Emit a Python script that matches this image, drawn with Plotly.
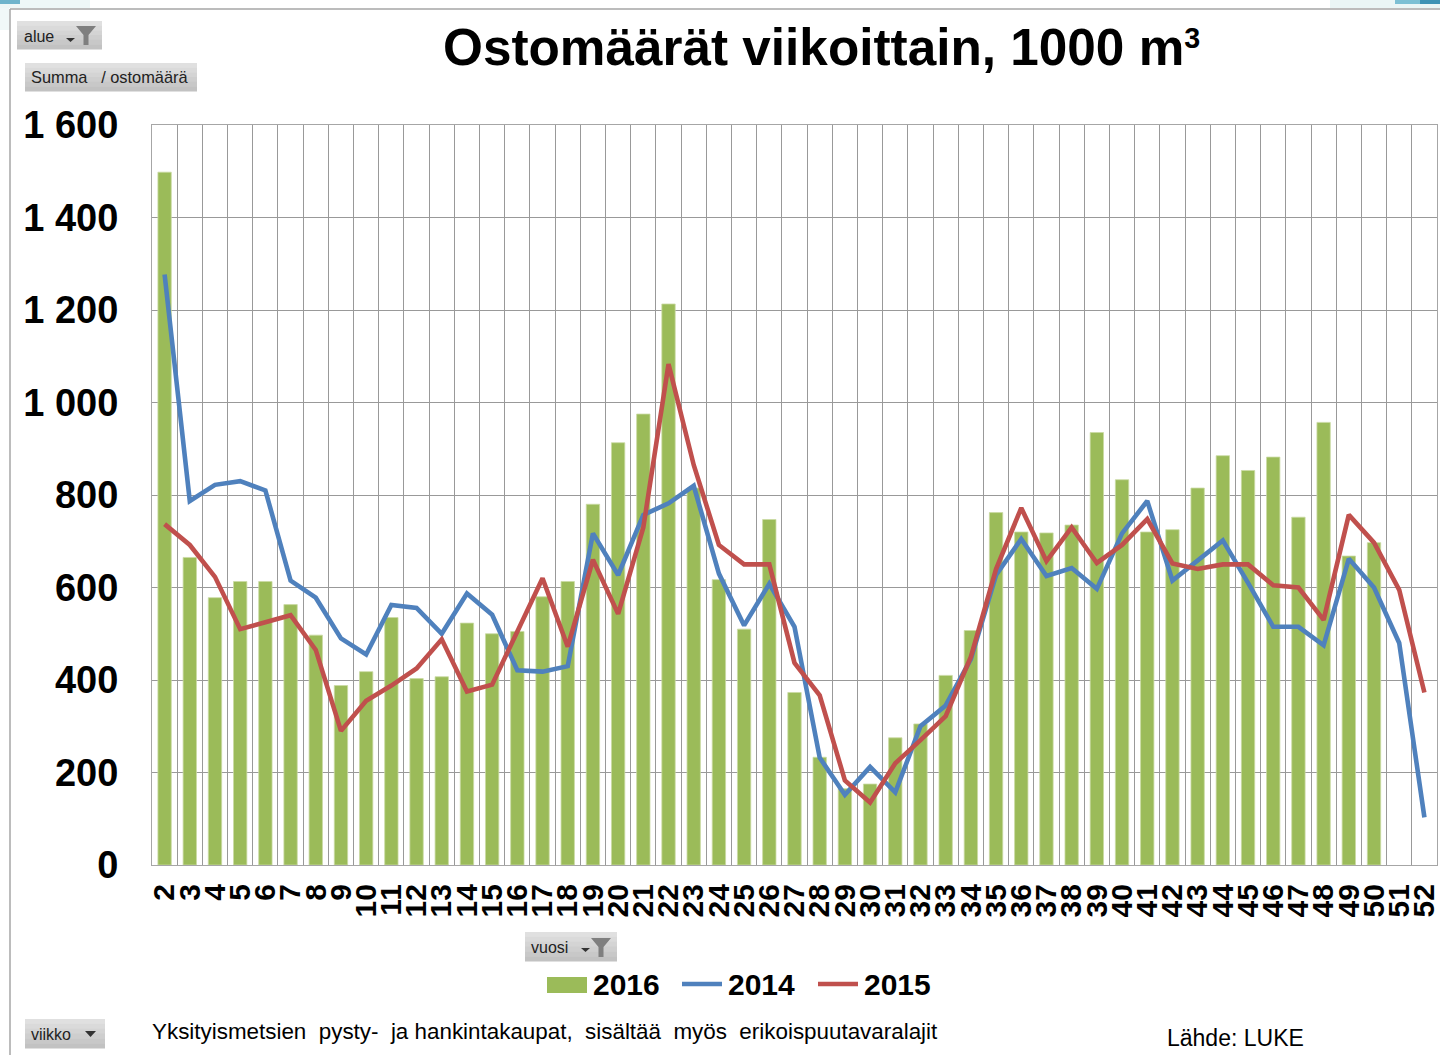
import plotly.graph_objects as go

weeks = [str(w) for w in range(2, 53)]
v2016 = [1498, 665, 578, 613, 613, 563, 497, 388, 418, 535, 403, 407, 523, 500, 505, 580, 613, 780, 913, 975, 1213, 815, 617, 510, 747, 373, 233, 165, 175, 275, 305, 410, 507, 762, 720, 718, 735, 935, 833, 720, 725, 815, 885, 853, 882, 752, 957, 668, 697, None, None]
v2014 = [1277, 787, 822, 830, 810, 615, 578, 490, 455, 562, 556, 500, 587, 541, 421, 418, 430, 717, 627, 757, 782, 820, 630, 518, 608, 515, 232, 152, 212, 157, 300, 345, 445, 627, 705, 625, 642, 597, 717, 787, 615, 660, 702, 610, 515, 515, 475, 662, 600, 480, 103]
v2015 = [737, 692, 623, 510, 525, 540, 465, 290, 355, 388, 425, 488, 375, 390, 505, 620, 472, 660, 543, 730, 1083, 865, 692, 650, 650, 437, 367, 183, 135, 220, 270, 322, 450, 640, 772, 657, 730, 653, 692, 748, 652, 640, 650, 650, 605, 600, 530, 757, 697, 595, 373]
y_ticks = [0, 200, 400, 600, 800, 1000, 1200, 1400, 1600]
y_labels = ["0", "200", "400", "600", "800", "1 000", "1 200", "1 400", "1 600"]

GREEN, BLUE, RED = "#9BBB59", "#4F81BD", "#C0504D"
W, H = 1440, 1055
L, R, T, B = 152, 1437, 125, 865
FONT = "Liberation Sans"

def px(x): return (x - L) / (R - L)
def py(y): return (B - y) / (B - T)

fig = go.Figure()
fig.add_bar(x=weeks, y=v2016, name="2016", marker=dict(color=GREEN, line=dict(color="#CADBA3", width=0.8)),
            width=0.53, showlegend=False)
fig.add_scatter(x=weeks, y=v2014, name="2014", mode="lines", line=dict(color=BLUE, width=4.6), showlegend=False)
fig.add_scatter(x=weeks, y=v2015, name="2015", mode="lines", line=dict(color=RED, width=4.6), showlegend=False)

shapes, annos = [], []

def rect(x0, y0, x1, y1, color):
    shapes.append(dict(type="rect", xref="paper", yref="paper", x0=px(x0), x1=px(x1),
                       y0=py(y0), y1=py(y1), fillcolor=color, line_width=0, layer="below"))

def text(x, y, s, size, color="#000", bold=False, anchor="left"):
    annos.append(dict(xref="paper", yref="paper", x=px(x), y=py(y), text=f"<b>{s}</b>" if bold else s,
                      showarrow=False, xanchor=anchor, yanchor="middle",
                      font=dict(family=FONT, size=size, color=color)))

def tri(x, y, w, h, color):
    shapes.append(dict(type="path", xref="paper", yref="paper",
                      path=f"M {px(x)} {py(y)} L {px(x+w)} {py(y)} L {px(x+w/2)} {py(y+h)} Z",
                      fillcolor=color, line_width=0))

def funnel(x, y):
    shapes.append(dict(type="path", xref="paper", yref="paper",
        path=(f"M {px(x)} {py(y)} L {px(x+20)} {py(y)} L {px(x+12.5)} {py(y+9)} L {px(x+12.5)} {py(y+19)} "
              f"L {px(x+7.5)} {py(y+19)} L {px(x+7.5)} {py(y+9)} Z"),
        fillcolor="#7F7F7F", line_width=0))

def button(x0, y0, x1, y1):
    n = 6
    for i in range(n):
        c = 224 - i * 6
        rect(x0, y0 + (y1 - y0) * i / n, x1, y0 + (y1 - y0) * (i + 1) / n + 0.5, f"rgb({c},{c},{c})")

def line(x0, y0, x1, y1, color, width):
    shapes.append(dict(type="line", xref="paper", yref="paper", x0=px(x0), x1=px(x1), y0=py(y0), y1=py(y1),
                       line=dict(color=color, width=width)))

# desktop-background slivers above the frame
rect(0, 0, 90, 8, "#EEF7F7")
rect(0, 0, 20, 4, "#6FB4CC")
rect(0, 8, 9, 30, "#F1F8F8")
rect(1330, 0, 1440, 8, "#EAF6F6")
rect(1395, 0, 1440, 4, "#7CC0D4")
rect(1420, 0, 1440, 4, "#3E93B5")

button(17, 21, 102, 49)
text(22.3, 36, "alue", 16, "#222")
tri(66, 38, 9, 4, "#333")
funnel(76, 26)

button(25, 63, 197, 91)
text(29.3, 77.5, "Summa&nbsp;&nbsp;&nbsp;/ ostomäärä", 16.4, "#222")

button(525, 932, 617, 961)
text(529, 947, "vuosi", 16, "#222")
tri(581, 948, 9, 4, "#333")
funnel(591, 938)

button(25, 1019, 105, 1048)
text(29.3, 1034, "viikko", 16, "#222")
tri(85, 1031, 11, 6, "#333")

# outer frame
line(10, 9, 1440, 9, "#A6A6A6", 1.5)
line(10, 9, 10, 1055, "#A6A6A6", 1.5)

# legend
rect(547, 977, 587, 993, GREEN)
text(591, 984, "2016", 30, bold=True)
line(682, 984, 722, 984, BLUE, 4.6)
text(725.7, 984, "2014", 30, bold=True)
line(818, 984, 858, 984, RED, 4.6)
text(862.4, 984, "2015", 30, bold=True)

# title and notes
text(821, 47.5, 'Ostomäärät viikoittain, 1000 m<span style="font-size:41px"><sup>3</sup></span>', 51.3, bold=True, anchor="center")
text(150, 1031.5, "Yksityismetsien&nbsp; pysty-&nbsp; ja hankintakaupat,&nbsp; sisältää&nbsp; myös&nbsp; erikoispuutavaralajit", 22.4)
text(1164.7, 1038, "Lähde: LUKE", 23)

fig.update_layout(
    width=W, height=H, autosize=False,
    margin=dict(l=L, r=W - R, t=T, b=H - B, pad=0, autoexpand=False),
    paper_bgcolor="white", plot_bgcolor="white",
    font=dict(family=FONT, color="#000"),
    showlegend=False,
    shapes=shapes, annotations=annos,
    xaxis=dict(type="category", categoryorder="array", categoryarray=weeks, tickmode="array",
               range=[-0.5, 50.5],
               tickvals=weeks, ticktext=weeks, tickangle=-90, tickson="boundaries", ticklen=0,
               ticklabelstandoff=6,
               showgrid=True, gridcolor="#999999", gridwidth=1.2,
               showline=True, linecolor="#A6A6A6", linewidth=1.2, mirror=True,
               tickfont=dict(family=FONT, size=30, color="#000", weight="bold")),
    yaxis=dict(range=[0, 1600], tickmode="array", tickvals=y_ticks, ticktext=y_labels, ticks="",
               ticklabelstandoff=25,
               showgrid=True, gridcolor="#999999", gridwidth=1.2,
               showline=True, linecolor="#A6A6A6", linewidth=1.2, mirror=True, zeroline=False,
               tickfont=dict(family=FONT, size=38, color="#000", weight="bold")),
)

fig.write_html("out.html", config={"displayModeBar": False},
               post_script="document.body.style.margin='0';")
